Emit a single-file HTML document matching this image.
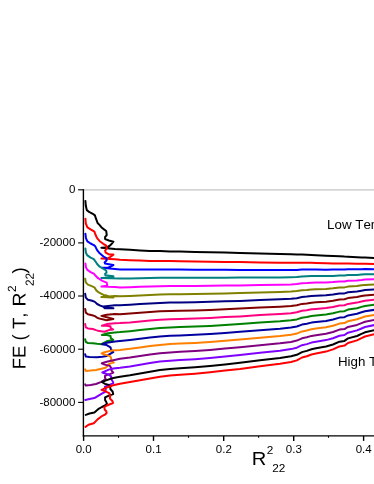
<!DOCTYPE html>
<html><head><meta charset="utf-8"><title>FE(T,R22^2)</title>
<style>
html,body{margin:0;padding:0;background:#fff;}
body{width:374px;height:484px;overflow:hidden;font-family:"Liberation Sans",sans-serif;}
svg{display:block;font-family:"Liberation Sans",sans-serif;font-kerning:none;}
.c{fill:none;stroke-width:2.0;stroke-linejoin:round;stroke-linecap:round;}
.t{font-size:11.5px;fill:#000;}
</style></head><body>
<svg width="374" height="484" viewBox="0 0 374 484">
<rect x="0" y="0" width="374" height="484" fill="#ffffff"/>
<line x1="83.4" y1="189.8" x2="374" y2="189.8" stroke="#c4c4c4" stroke-width="1.3"/>
<path class="c" stroke="#000000" d="M85.4,200.9 L85.8,205.8 L86.8,210.1 L89.5,212.2 L92.8,213.8 L94.9,215.4 L96.0,218.7 L97.6,223.0 L99.7,225.1 L101.9,227.8 L104.0,229.4 L106.2,231.0 L106.5,233.2 L106.7,235.3 L105.1,236.9 L105.1,239.1 L108.9,240.5 L113.4,241.7 L111.6,244.0 L109.4,246.0 L106.0,247.6 L101.4,247.7 L115.0,249.0 L120.0,249.3 L130.0,249.8 L140.0,250.4 L150.0,250.9 L160.0,251.1 L170.0,251.4 L180.0,251.6 L195.0,252.0 L210.0,252.3 L225.0,252.6 L240.0,253.0 L260.0,253.5 L280.0,254.0 L291.0,254.3 L296.8,254.5 L302.0,254.6 L306.8,254.7 L311.5,254.9 L316.0,255.2 L326.0,255.7 L333.0,256.0 L339.5,256.3 L344.5,256.6 L348.0,256.7 L357.0,257.2 L361.5,257.4 L365.0,257.6 L374.5,258.1"/>
<path class="c" stroke="#ff0000" d="M85.4,218.7 L85.8,223.5 L87.4,227.3 L90.6,229.4 L94.4,231.6 L95.4,234.5 L97.1,238.1 L99.7,241.2 L103.3,243.8 L106.2,245.7 L106.9,248.4 L105.1,250.6 L105.7,252.7 L108.9,254.4 L113.4,254.6 L111.0,256.5 L108.3,258.1 L101.4,258.4 L115.0,259.2 L120.0,259.8 L130.0,260.2 L140.0,260.6 L150.0,260.9 L160.0,261.0 L170.0,261.1 L180.0,261.3 L195.0,261.6 L210.0,261.8 L225.0,261.9 L240.0,262.1 L260.0,262.4 L280.0,262.7 L291.0,262.8 L296.8,262.8 L302.0,262.7 L306.8,262.7 L311.5,262.8 L316.0,263.0 L326.0,263.3 L333.0,263.4 L339.5,263.4 L344.5,263.6 L348.0,263.5 L357.0,263.7 L361.5,263.8 L365.0,263.8 L374.5,264.1"/>
<path class="c" stroke="#0000ff" d="M85.4,233.7 L85.9,238.1 L87.4,241.4 L90.6,243.5 L93.8,245.1 L95.4,246.6 L97.1,250.1 L99.7,253.3 L103.5,256.5 L106.2,258.1 L106.7,260.3 L104.6,262.4 L105.1,263.5 L108.9,264.2 L113.4,265.1 L110.5,266.7 L107.8,267.8 L102.4,267.8 L120.0,269.6 L130.0,269.6 L140.0,269.5 L150.0,269.4 L160.0,269.4 L170.0,269.4 L180.0,269.6 L195.0,269.7 L210.0,269.8 L225.0,269.8 L240.0,269.9 L260.0,269.9 L280.0,270.0 L291.0,270.0 L296.8,269.9 L302.0,269.6 L306.8,269.5 L311.5,269.4 L316.0,269.5 L326.0,269.7 L333.0,269.6 L339.5,269.4 L344.5,269.6 L348.0,269.3 L357.0,269.3 L361.5,269.2 L365.0,269.0 L374.5,269.2"/>
<path class="c" stroke="#008080" d="M85.4,248.4 L85.9,252.7 L87.4,255.4 L90.6,257.6 L93.8,259.2 L95.4,261.3 L97.1,264.0 L99.7,266.7 L103.5,268.9 L106.2,270.5 L106.5,272.6 L105.1,273.7 L105.4,275.3 L113.4,276.2 L113.4,277.3 L101.4,278.0 L120.0,278.5 L130.0,278.4 L140.0,278.2 L150.0,278.0 L160.0,277.8 L170.0,277.7 L180.0,277.8 L195.0,277.8 L210.0,277.8 L225.0,277.7 L240.0,277.6 L260.0,277.4 L280.0,277.4 L291.0,277.2 L296.8,277.0 L302.0,276.4 L306.8,276.3 L311.5,276.1 L316.0,276.1 L326.0,276.1 L333.0,275.9 L339.5,275.4 L344.5,275.5 L348.0,275.0 L357.0,274.9 L361.5,274.6 L365.0,274.3 L374.5,274.3"/>
<path class="c" stroke="#ff00ff" d="M85.4,263.5 L85.9,267.3 L87.4,269.9 L90.6,272.1 L93.8,273.7 L95.4,275.5 L98.1,278.2 L102.4,280.9 L106.7,282.6 L107.3,285.8 L101.4,286.6 L115.0,287.0 L120.0,287.4 L130.0,287.2 L140.0,286.8 L150.0,286.5 L160.0,286.2 L170.0,286.0 L180.0,286.0 L195.0,286.0 L210.0,285.8 L225.0,285.6 L240.0,285.4 L260.0,285.0 L280.0,284.7 L291.0,284.4 L296.8,284.0 L302.0,283.3 L306.8,283.1 L311.5,282.7 L316.0,282.6 L326.0,282.5 L333.0,282.1 L339.5,281.5 L344.5,281.5 L348.0,280.8 L357.0,280.4 L361.5,280.0 L365.0,279.6 L374.5,279.3"/>
<path class="c" stroke="#808000" d="M85.2,278.7 L85.8,282.4 L87.9,284.6 L91.7,286.2 L94.4,287.4 L96.5,290.6 L99.2,292.7 L103.5,294.9 L106.7,295.6 L113.4,297.6 L101.4,297.1 L115.0,296.0 L120.0,296.3 L130.0,296.0 L140.0,295.5 L150.0,295.0 L160.0,294.5 L170.0,294.3 L180.0,294.2 L195.0,294.1 L210.0,293.8 L225.0,293.5 L240.0,293.1 L260.0,292.5 L280.0,292.0 L291.0,291.6 L296.8,291.1 L302.0,290.2 L306.8,289.9 L311.5,289.4 L316.0,289.2 L326.0,288.9 L333.0,288.3 L339.5,287.5 L344.5,287.4 L348.0,286.6 L357.0,286.0 L361.5,285.3 L365.0,284.9 L374.5,284.4"/>
<path class="c" stroke="#000080" d="M85.2,293.8 L85.8,297.6 L87.9,299.7 L92.2,300.8 L94.9,301.9 L97.1,304.0 L100.3,305.6 L103.5,306.7 L113.4,308.3 L104.6,308.3 L103.5,306.4 L115.0,305.2 L120.0,305.3 L130.0,304.8 L140.0,304.1 L150.0,303.5 L160.0,302.9 L170.0,302.6 L180.0,302.5 L195.0,302.2 L210.0,301.8 L225.0,301.3 L240.0,300.9 L260.0,300.0 L280.0,299.3 L291.0,298.8 L296.8,298.2 L302.0,297.1 L306.8,296.6 L311.5,296.0 L316.0,295.8 L326.0,295.3 L333.0,294.6 L339.5,293.5 L344.5,293.4 L348.0,292.3 L357.0,291.5 L361.5,290.7 L365.0,290.1 L374.5,289.5"/>
<path class="c" stroke="#800000" d="M85.2,308.9 L85.8,312.6 L87.9,314.2 L92.2,315.3 L94.9,316.1 L97.6,318.0 L101.4,319.1 L106.7,320.2 L113.4,318.9 L107.8,317.5 L101.4,315.9 L106.7,314.8 L115.0,314.0 L120.0,314.2 L130.0,313.6 L140.0,312.8 L150.0,312.0 L160.0,311.3 L170.0,310.9 L180.0,310.7 L195.0,310.4 L210.0,309.9 L225.0,309.2 L240.0,308.6 L260.0,307.6 L280.0,306.7 L291.0,306.0 L296.8,305.3 L302.0,303.9 L306.8,303.4 L311.5,302.7 L316.0,302.3 L326.0,301.7 L333.0,300.8 L339.5,299.5 L344.5,299.3 L348.0,298.1 L357.0,297.1 L361.5,296.1 L365.0,295.4 L374.5,294.6"/>
<path class="c" stroke="#ff0080" d="M85.2,324.1 L85.8,327.4 L87.9,328.4 L92.8,329.0 L96.0,330.1 L99.2,331.1 L104.6,331.7 L108.9,330.1 L113.2,329.5 L110.5,327.9 L110.5,326.3 L105.7,325.8 L101.9,325.8 L106.7,324.1 L115.0,323.2 L120.0,323.1 L130.0,322.4 L140.0,321.4 L150.0,320.6 L160.0,319.7 L170.0,319.2 L180.0,318.9 L195.0,318.5 L210.0,317.9 L225.0,317.1 L240.0,316.4 L260.0,315.1 L280.0,314.0 L291.0,313.2 L296.8,312.3 L302.0,310.8 L306.8,310.2 L311.5,309.3 L316.0,308.9 L326.0,308.1 L333.0,307.0 L339.5,305.6 L344.5,305.3 L348.0,303.9 L357.0,302.6 L361.5,301.5 L365.0,300.7 L374.5,299.6"/>
<path class="c" stroke="#008000" d="M85.2,339.2 L85.8,341.9 L87.9,343.0 L92.8,343.2 L97.1,343.8 L101.4,344.2 L106.7,341.3 L113.2,339.9 L110.8,338.1 L110.5,336.0 L106.2,334.9 L101.9,334.9 L107.8,333.3 L115.0,332.4 L120.0,332.1 L130.0,331.2 L140.0,330.1 L150.0,329.1 L160.0,328.1 L170.0,327.5 L180.0,327.1 L195.0,326.6 L210.0,325.9 L225.0,325.0 L240.0,324.1 L260.0,322.6 L280.0,321.3 L291.0,320.3 L296.8,319.4 L302.0,317.7 L306.8,317.0 L311.5,316.0 L316.0,315.5 L326.0,314.5 L333.0,313.3 L339.5,311.6 L344.5,311.2 L348.0,309.6 L357.0,308.2 L361.5,306.9 L365.0,306.0 L374.5,304.7"/>
<path class="c" stroke="#0000a0" d="M85.2,354.2 L85.8,356.4 L89.5,356.9 L97.1,357.2 L102.4,356.7 L106.7,355.9 L113.2,352.1 L111.0,349.4 L110.5,347.3 L106.7,345.1 L101.9,344.2 L106.7,342.7 L115.0,341.4 L120.0,341.0 L130.0,340.0 L140.0,338.8 L150.0,337.6 L160.0,336.5 L170.0,335.8 L180.0,335.4 L195.0,334.8 L210.0,333.9 L225.0,332.9 L240.0,331.8 L260.0,330.2 L280.0,328.7 L291.0,327.5 L296.8,326.5 L302.0,324.6 L306.8,323.8 L311.5,322.6 L316.0,322.0 L326.0,320.9 L333.0,319.5 L339.5,317.6 L344.5,317.2 L348.0,315.4 L357.0,313.8 L361.5,312.3 L365.0,311.2 L374.5,309.8"/>
<path class="c" stroke="#ff8000" d="M85.2,369.4 L85.8,371.0 L90.6,370.6 L96.0,369.9 L101.4,368.7 L105.6,367.8 L106.9,366.6 L108.0,364.8 L110.5,363.4 L113.8,362.6 L111.4,360.6 L111.1,358.3 L110.4,356.4 L106.9,355.1 L101.6,353.5 L104.3,352.2 L112.0,350.6 L120.0,349.9 L130.0,348.8 L140.0,347.4 L150.0,346.1 L160.0,344.9 L170.0,344.1 L180.0,343.6 L195.0,342.9 L210.0,341.9 L225.0,340.8 L240.0,339.6 L260.0,337.7 L280.0,336.0 L291.0,334.7 L296.8,333.6 L302.0,331.4 L306.8,330.5 L311.5,329.3 L316.0,328.6 L326.0,327.3 L333.0,325.8 L339.5,323.6 L344.5,323.1 L348.0,321.2 L357.0,319.3 L361.5,317.7 L365.0,316.5 L374.5,314.9"/>
<path class="c" stroke="#800080" d="M85.2,384.4 L85.8,385.5 L90.6,384.9 L96.0,384.0 L101.4,381.9 L103.5,380.6 L105.7,378.9 L105.0,377.6 L105.0,375.9 L107.2,374.8 L110.4,373.9 L113.3,372.6 L111.4,370.3 L111.1,367.8 L109.8,365.9 L104.6,364.6 L101.8,363.3 L106.7,361.8 L113.2,360.2 L120.0,358.8 L130.0,357.6 L140.0,356.1 L150.0,354.6 L160.0,353.3 L170.0,352.4 L180.0,351.8 L195.0,351.0 L210.0,349.9 L225.0,348.6 L240.0,347.3 L260.0,345.2 L280.0,343.3 L291.0,341.9 L296.8,340.6 L302.0,338.3 L306.8,337.3 L311.5,335.9 L316.0,335.2 L326.0,333.7 L333.0,332.0 L339.5,329.6 L344.5,329.1 L348.0,326.9 L357.0,324.9 L361.5,323.1 L365.0,321.8 L374.5,320.0"/>
<path class="c" stroke="#8000ff" d="M85.2,399.9 L89.5,399.0 L94.4,398.1 L98.1,395.8 L101.9,393.6 L105.1,391.8 L105.7,389.6 L105.0,386.7 L108.8,385.1 L113.3,383.2 L113.0,381.9 L111.4,379.3 L111.1,376.4 L108.8,374.8 L102.3,372.5 L108.8,369.6 L113.2,368.5 L120.0,367.8 L130.0,366.4 L140.0,364.7 L150.0,363.1 L160.0,361.6 L170.0,360.7 L180.0,360.1 L195.0,359.2 L210.0,358.0 L225.0,356.5 L240.0,355.1 L260.0,352.8 L280.0,350.7 L291.0,349.1 L296.8,347.7 L302.0,345.2 L306.8,344.1 L311.5,342.6 L316.0,341.7 L326.0,340.1 L333.0,338.2 L339.5,335.7 L344.5,335.0 L348.0,332.7 L357.0,330.4 L361.5,328.5 L365.0,327.0 L374.5,325.0"/>
<path class="c" stroke="#000000" d="M85.8,414.9 L89.5,413.5 L94.4,412.4 L98.1,409.2 L101.9,407.0 L105.1,405.4 L106.9,403.8 L106.2,401.7 L105.1,400.1 L105.1,397.4 L108.3,395.8 L113.2,394.1 L112.6,391.5 L110.5,389.3 L110.2,387.2 L108.9,384.9 L105.1,383.9 L101.9,382.0 L106.7,380.1 L113.2,378.0 L120.0,376.7 L130.0,375.2 L140.0,373.4 L150.0,371.7 L160.0,370.0 L170.0,369.0 L180.0,368.3 L195.0,367.3 L210.0,366.0 L225.0,364.4 L240.0,362.8 L260.0,360.3 L280.0,358.0 L291.0,356.3 L296.8,354.8 L302.0,352.1 L306.8,350.9 L311.5,349.2 L316.0,348.3 L326.0,346.5 L333.0,344.5 L339.5,341.7 L344.5,340.9 L348.0,338.4 L357.0,336.0 L361.5,333.9 L365.0,332.3 L374.5,330.1"/>
<path class="c" stroke="#ff0000" d="M85.5,426.9 L88.5,424.8 L93.8,423.2 L97.6,419.4 L101.4,416.5 L102.4,415.8 L105.4,414.3 L106.6,413.0 L106.3,411.3 L104.8,409.7 L104.3,407.3 L106.9,405.5 L113.0,403.0 L112.4,401.0 L109.9,398.5 L110.2,395.9 L109.5,393.3 L105.6,391.4 L101.6,389.8 L106.7,387.5 L113.2,385.3 L120.0,383.8 L130.0,382.1 L140.0,380.2 L150.0,378.4 L160.0,376.7 L170.0,375.5 L180.0,374.8 L195.0,373.7 L210.0,372.3 L225.0,370.6 L240.0,369.0 L260.0,366.2 L280.0,363.8 L291.0,362.0 L296.8,360.4 L302.0,357.5 L306.8,356.2 L311.5,354.5 L316.0,353.5 L326.0,351.6 L333.0,349.4 L339.5,346.4 L344.5,345.6 L348.0,343.0 L357.0,340.4 L361.5,338.2 L365.0,336.5 L374.5,334.1"/>
<g stroke="#000" stroke-width="1.4" fill="none" stroke-linecap="butt">
<line x1="83.4" y1="189.20000000000002" x2="83.4" y2="436.54999999999995"/>
<line x1="82.75" y1="435.9" x2="374" y2="435.9"/>
<line x1="78.10000000000001" y1="189.8" x2="83.4" y2="189.8" stroke-width="1.1"/>
<line x1="78.10000000000001" y1="242.9" x2="83.4" y2="242.9" stroke-width="1.1"/>
<line x1="78.10000000000001" y1="296.0" x2="83.4" y2="296.0" stroke-width="1.1"/>
<line x1="78.10000000000001" y1="349.2" x2="83.4" y2="349.2" stroke-width="1.1"/>
<line x1="78.10000000000001" y1="402.4" x2="83.4" y2="402.4" stroke-width="1.1"/>
<line x1="83.6" y1="435.9" x2="83.6" y2="440.9"/>
<line x1="153.5" y1="435.9" x2="153.5" y2="440.9"/>
<line x1="223.7" y1="435.9" x2="223.7" y2="440.9"/>
<line x1="293.7" y1="435.9" x2="293.7" y2="440.9"/>
<line x1="363.6" y1="435.9" x2="363.6" y2="440.9"/>
<line x1="118.5" y1="435.9" x2="118.5" y2="437.8" stroke-width="1.1"/>
<line x1="188.5" y1="435.9" x2="188.5" y2="437.8" stroke-width="1.1"/>
<line x1="258.6" y1="435.9" x2="258.6" y2="437.8" stroke-width="1.1"/>
<line x1="328.5" y1="435.9" x2="328.5" y2="437.8" stroke-width="1.1"/>
</g>
<g style="will-change:opacity">
<text class="t" x="75.3" y="193.1" text-anchor="end">0</text>
<text class="t" x="75.3" y="246.2" text-anchor="end">-20000</text>
<text class="t" x="75.3" y="299.3" text-anchor="end">-40000</text>
<text class="t" x="75.3" y="352.5" text-anchor="end">-60000</text>
<text class="t" x="75.3" y="405.7" text-anchor="end">-80000</text>
<text class="t" x="83.7" y="453.3" text-anchor="middle">0.0</text>
<text class="t" x="153.6" y="453.3" text-anchor="middle">0.1</text>
<text class="t" x="223.8" y="453.3" text-anchor="middle">0.2</text>
<text class="t" x="293.8" y="453.3" text-anchor="middle">0.3</text>
<text class="t" x="363.7" y="453.3" text-anchor="middle">0.4</text>
<text x="327.1" y="229.4" font-size="13.33px" fill="#000">Low Temperature</text>
<text x="337.9" y="365.9" font-size="13.33px" fill="#000">High Temperature</text>
<text transform="translate(251.7,464.5) scale(1.08,1.03)" x="0" y="0" font-size="18.67px" fill="#000">R</text>
<text x="266.7" y="454.0" font-size="11.8px" fill="#000">2</text>
<text x="272.3" y="471.8" font-size="11.8px" fill="#000">22</text>
<g transform="translate(25.45,369.2) rotate(-89.95)" fill="#000">
<text x="0" y="0" font-size="18.5px">FE ( T,</text>
<text transform="translate(62.6,0) scale(1.05,1.0)" x="0" y="0" font-size="18.5px">R</text>
<text x="77.2" y="-9.6" font-size="11.8px">2</text>
<text x="83.1" y="8.1" font-size="11.8px">22</text>
<text x="95.75" y="0" font-size="18.5px">)</text>
</g>
</g>
</svg>
</body></html>
